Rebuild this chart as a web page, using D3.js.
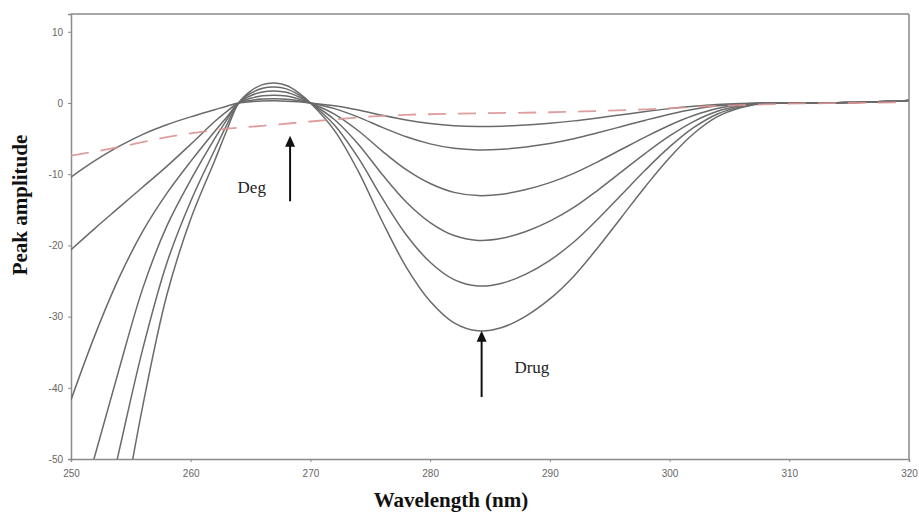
<!DOCTYPE html>
<html>
<head>
<meta charset="utf-8">
<script src="https://cdn.jsdelivr.net/npm/d3@7"></script>
<style>
html,body{margin:0;padding:0;background:#fff;}
svg{display:block;}
</style>
</head>
<body>
<svg id="chart" width="919" height="515"></svg>
<script>
// ---- data ----
const wavelengths = [250,252,254,256,258,260,262,263,264,265,266,267,268,269,270,
  272,274,276,278,280,282,284,286,288,290,292,294,296,298,300,302,304,306,308,
  310,312,314,316,318,320];
const seriesA = [-10.4,-8.1,-6.1,-4.4,-3.05,-1.95,-0.95,-0.45,0,0.18,0.28,0.3,0.26,0.16,0,
  -0.40,-0.99,-1.72,-2.38,-2.87,-3.18,-3.3,-3.25,-3.09,-2.84,-2.51,-2.10,-1.65,-1.20,-0.79,-0.45,-0.20,-0.07,0,
  -0.05,0,0.05,0.1,0.2,0.35];
const seriesB = [-20.6,-17.6,-14.7,-11.8,-8.9,-5.8,-2.6,-1.2,0,0.36,0.55,0.6,0.53,0.31,0,
  -0.79,-1.98,-3.43,-4.75,-5.74,-6.37,-6.6,-6.5,-6.17,-5.68,-5.02,-4.19,-3.3,-2.41,-1.58,-0.89,-0.40,-0.13,0,
  -0.05,0,0.05,0.1,0.2,0.35];
const seriesC = [-41.7,-32.6,-24.6,-18.0,-12.7,-8.2,-4.0,-2.0,0,0.66,1.01,1.1,0.97,0.57,0,
  -1.56,-3.9,-6.76,-9.36,-11.31,-12.55,-13.0,-12.81,-12.16,-11.18,-9.88,-8.26,-6.5,-4.75,-3.12,-1.76,-0.78,-0.26,0,
  -0.05,0,0.05,0.1,0.2,0.35];
const seriesD = [-61,-49.5,-37.5,-26,-17.3,-10.8,-5,-2.4,0,1.02,1.56,1.7,1.5,0.88,0,
  -2.32,-5.79,-10.04,-13.9,-16.79,-18.62,-19.3,-19.01,-18.05,-16.6,-14.67,-12.26,-9.65,-7.04,-4.63,-2.61,-1.16,-0.39,0,
  -0.05,0,0.05,0.1,0.2,0.35];
const seriesE = [-79,-64,-49,-34.5,-22.5,-13.8,-6.6,-3.1,0,1.35,2.07,2.25,1.98,1.17,0,
  -3.08,-7.71,-13.36,-18.5,-22.36,-24.8,-25.7,-25.31,-24.03,-22.1,-19.53,-16.32,-12.85,-9.38,-6.17,-3.47,-1.54,-0.51,0,
  -0.05,0,0.05,0.1,0.2,0.35];
const seriesF = [-102,-81,-61,-42.5,-27,-16.3,-8.1,-3.9,0,1.68,2.58,2.8,2.46,1.46,0,
  -3.84,-9.6,-16.64,-23.04,-27.84,-30.88,-32.0,-31.52,-29.92,-27.52,-24.32,-20.32,-16.0,-11.68,-7.68,-4.32,-1.92,-0.64,0,
  -0.05,0,0.05,0.1,0.2,0.35];
const degWavelengths = [250,254,258,262,266,270,276,282,290,298,302,306,310,315,320];
const degValues = [-7.4,-6.2,-4.8,-3.8,-3.2,-2.6,-1.8,-1.5,-1.3,-0.9,-0.55,-0.3,-0.1,0,0.1];
const xTicks = [250,260,270,280,290,300,310,320];
const yTicks = [10,0,-10,-20,-30,-40,-50];
const xTitle = "Wavelength (nm)";
const yTitle = "Peak amplitude";
const annotations = [
  {label:"Deg", x:268.3, yTip:-4.6, yBase:-13.8, textX:265.1, textY:-12.6},
  {label:"Drug", x:284.3, yTip:-32.0, yBase:-41.3, textX:288.5, textY:-37.9}
];

// ---- drawing ----
const svg = d3.select("#chart");
const x = d3.scaleLinear().domain([250,320]).range([71,909]);
const y = d3.scaleLinear().domain([-50,12.5]).range([459,14]);

svg.append("defs").append("clipPath").attr("id","plotclip")
  .append("rect").attr("x",71).attr("y",14).attr("width",838).attr("height",445);

const axisColor = "#8a8a8a";
// frame
svg.append("line").attr("x1",x(250)).attr("x2",x(320)).attr("y1",y(12.5)).attr("y2",y(12.5))
  .attr("stroke",axisColor).attr("stroke-width",1.5);
svg.append("line").attr("x1",x(320)).attr("x2",x(320)).attr("y1",y(12.5)).attr("y2",y(-50))
  .attr("stroke",axisColor).attr("stroke-width",1.5);

const xAxis = svg.append("g").attr("transform",`translate(0,${y(-50)})`)
  .call(d3.axisBottom(x).tickValues(xTicks).tickSize(3).tickPadding(8).tickFormat(d3.format("d")));
const yAxis = svg.append("g").attr("transform",`translate(${x(250)},0)`)
  .call(d3.axisLeft(y).tickValues(yTicks).tickSize(3).tickPadding(5).tickFormat(d=>d<0?"-"+Math.abs(d):String(d)));
[xAxis,yAxis].forEach(g=>{
  g.select(".domain").attr("stroke",axisColor).attr("stroke-width",1.5);
  g.selectAll(".tick line").attr("stroke",axisColor);
  g.selectAll(".tick text").attr("fill","#666").attr("font-size",10)
    .attr("font-family","Liberation Sans, Arial, sans-serif");
});

const plot = svg.append("g").attr("clip-path","url(#plotclip)");
const line = d3.line().x(d=>x(d[0])).y(d=>y(d[1])).curve(d3.curveCatmullRom.alpha(0.5));

const allSeries = [seriesA,seriesB,seriesC,seriesD,seriesE,seriesF];
allSeries.forEach(s=>{
  plot.append("path").datum(wavelengths.map((w,i)=>[w,s[i]]))
    .attr("d",line).attr("fill","none").attr("stroke","#6a6a6a").attr("stroke-width",1.5);
});
plot.append("path").datum(degWavelengths.map((w,i)=>[w,degValues[i]]))
  .attr("d",line).attr("fill","none").attr("stroke","#dc9494").attr("stroke-width",1.8)
  .attr("stroke-dasharray","18,12").attr("opacity",0.9);

// annotations
annotations.forEach(a=>{
  const ax = x(a.x), tip = y(a.yTip), base = y(a.yBase);
  svg.append("line").attr("x1",ax).attr("x2",ax).attr("y1",base).attr("y2",tip+9)
    .attr("stroke","#111").attr("stroke-width",2);
  svg.append("path").attr("d",`M${ax},${tip} L${ax-5},${tip+11} L${ax+5},${tip+11} Z`).attr("fill","#111");
  svg.append("text").attr("x",x(a.textX)).attr("y",y(a.textY)).attr("text-anchor","middle")
    .attr("font-family","Liberation Serif, Times New Roman, serif").attr("font-size",17)
    .attr("fill","#222").text(a.label);
});

// axis titles
svg.append("text").attr("x",451).attr("y",507).attr("text-anchor","middle")
  .attr("font-family","Liberation Serif, Times New Roman, serif").attr("font-weight","bold")
  .attr("font-size",21).attr("fill","#111").text(xTitle);
svg.append("text").attr("transform","translate(27,205) rotate(-90)").attr("text-anchor","middle")
  .attr("font-family","Liberation Serif, Times New Roman, serif").attr("font-weight","bold")
  .attr("font-size",21).attr("fill","#111").text(yTitle);
</script>
</body>
</html>
